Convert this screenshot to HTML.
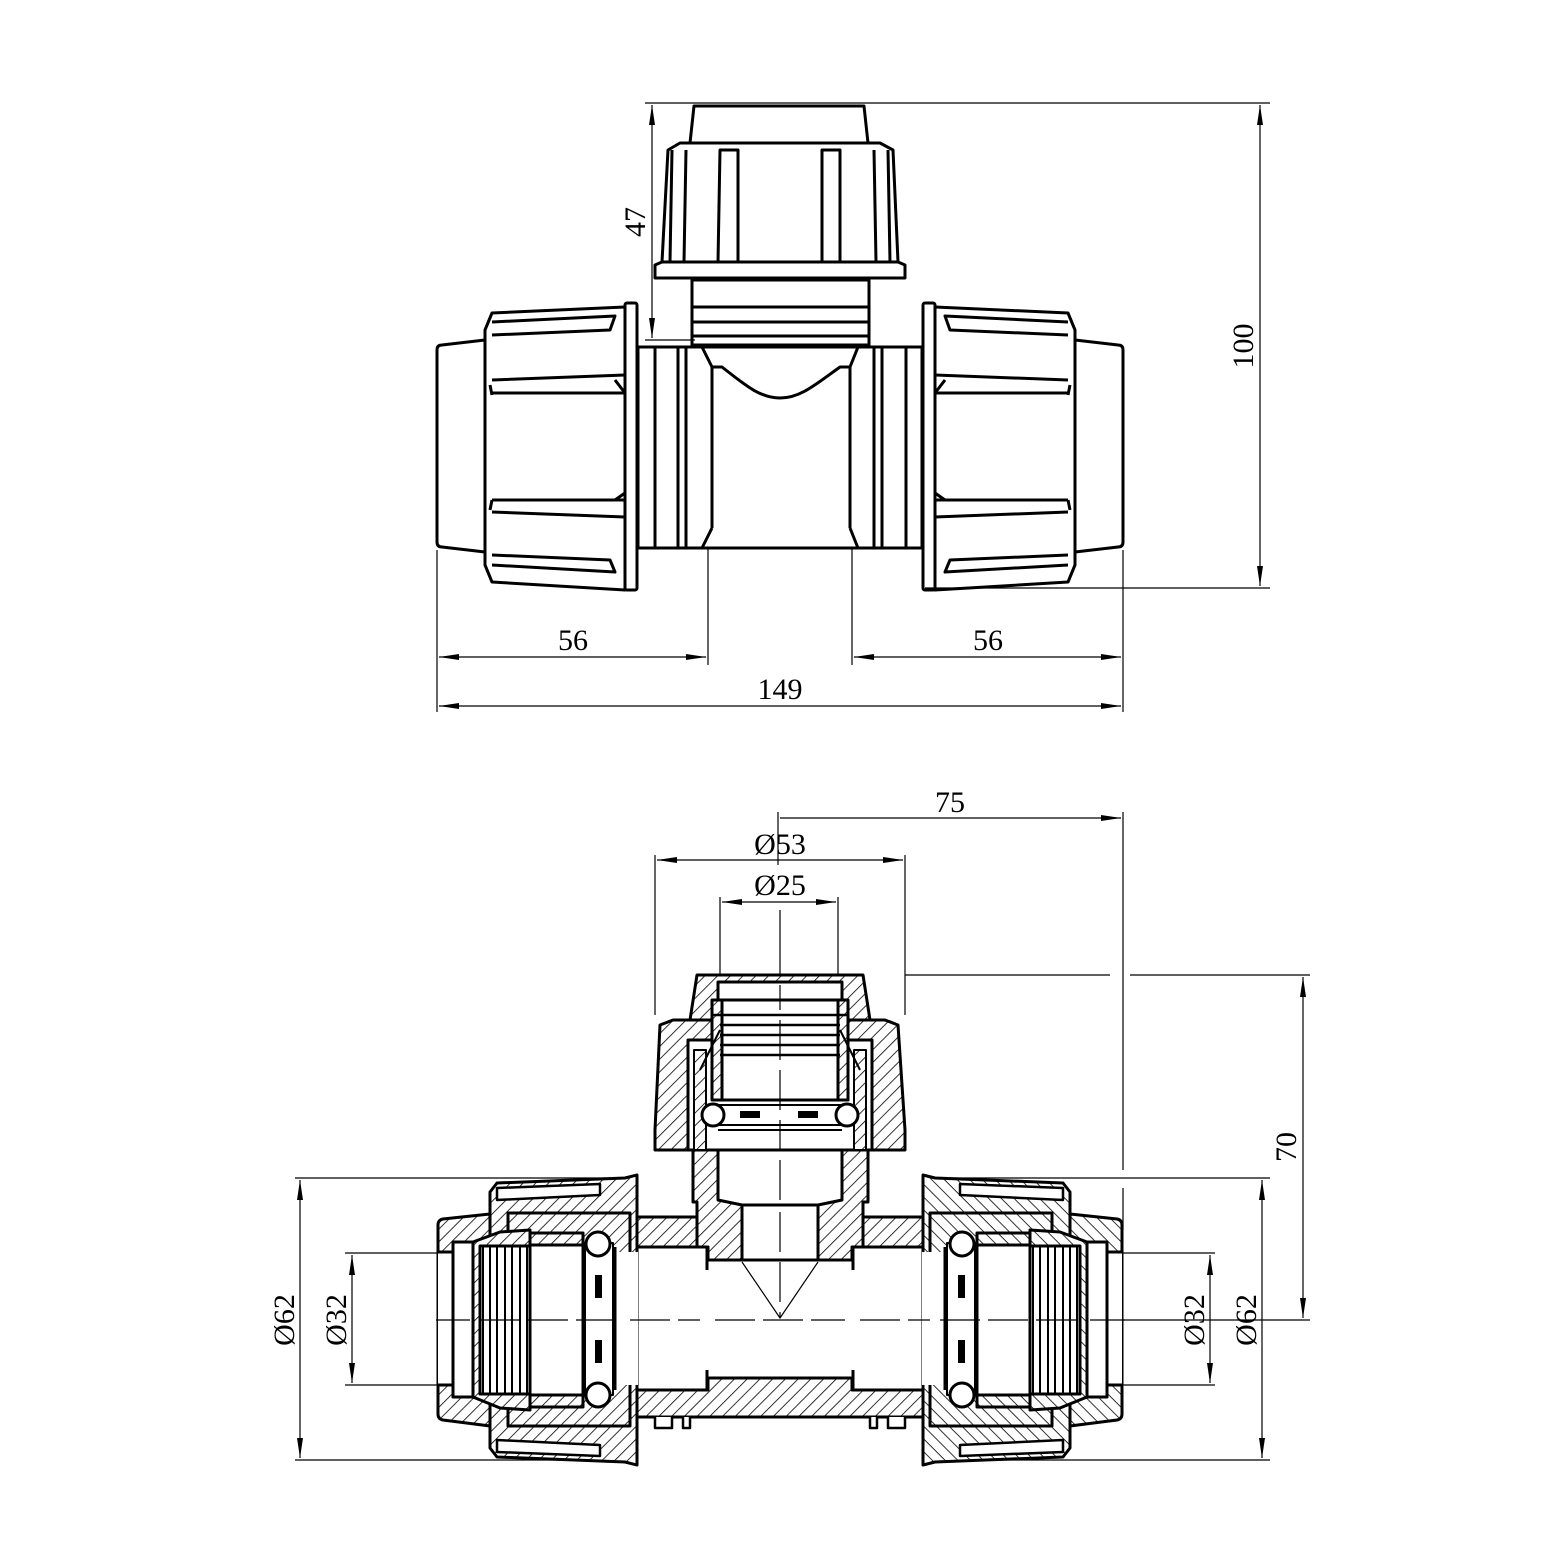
<!DOCTYPE html>
<html><head><meta charset="utf-8"><style>
html,body{margin:0;padding:0;background:#fff;}
svg{display:block;}
text{font-family:"Liberation Serif",serif;font-size:30px;fill:#000;}
</style></head><body>
<svg width="1566" height="1566" viewBox="0 0 1566 1566" xmlns="http://www.w3.org/2000/svg">
<defs>
<pattern id="h" patternUnits="userSpaceOnUse" width="9" height="9" patternTransform="rotate(45)">
<rect width="9" height="9" fill="#fff"/><line x1="0" y1="0" x2="0" y2="9" stroke="#000" stroke-width="1.6"/>
</pattern>
<marker id="a" viewBox="0 0 20 6" refX="20" refY="3" markerWidth="20" markerHeight="6" orient="auto-start-reverse" markerUnits="userSpaceOnUse">
<path d="M0,0 L20,3 L0,6 z" fill="#000"/></marker>
</defs>

<!-- ============ TOP VIEW ============ -->
<g fill="#fff" stroke="#000" stroke-width="3" stroke-linejoin="round">
 <!-- cap -->
 <path d="M690,143 L694,106 L864,106 L868,143 Z"/>
 <!-- branch nut -->
 <path d="M668,150 L680,143 L880,143 L893,150 L898,262 L905,265 L905,278 L655,278 L655,265 L662,262 Z"/>
 <line x1="662" y1="262" x2="898" y2="262"/>
 <path d="M672,150 L670,262 M686,150 L684,262"/>
 <path d="M720,150 L718,262 L738,262 L738,150 Z"/>
 <path d="M822,150 L822,262 L840,262 L840,150 Z"/>
 <path d="M874,150 L876,262 M888,150 L890,262"/>
 <!-- collar -->
 <rect x="692" y="280" width="177" height="65"/>
 <path d="M692,307 H869 M692,322 H869 M692,336 H869"/>
 <!-- body -->
 <rect x="638" y="347" width="284" height="201"/>
 <path d="M655,347 V548 M678,347 V548 M686,347 V548 M712,367 V528 M850,367 V528 M874,347 V548 M882,347 V548 M906,347 V548"/>
 <path d="M712,367 L722,367 C745,385 760,398 780,398 C800,398 815,385 840,367 L850,367"/>
 <path d="M702,347 L712,367 M858,347 L850,367 M712,528 L702,548 M850,528 L858,548"/>
</g>
<!-- left & right nuts top view -->
<g id="tn" fill="#fff" stroke="#000" stroke-width="3" stroke-linejoin="round">
 <path d="M437,350 Q437,345 442,345 L485,340 L485,552 L442,547 Q437,547 437,542 Z"/>
 <path d="M485,330 L492,313 L625,307 L625,590 L492,582 L485,565 Z"/>
 <rect x="625" y="303" width="12" height="287" rx="2"/>
 <path d="M492,322 L615,316 L610,330 L492,335"/>
 <path d="M492,380 L625,375 M492,393 L625,393 M492,395 L490,385 M615,380 L625,393"/>
 <path d="M492,500 L625,500 M492,512 L625,517 M492,500 L490,510 M615,500 L625,493"/>
 <path d="M492,565 L615,572 L610,560 L492,555"/>
</g>
<use href="#tn" transform="translate(1560,0) scale(-1,1)"/>

<!-- top view dimensions -->
<g stroke="#000" stroke-width="1.2" fill="none">
 <line x1="645" y1="103" x2="1270" y2="103"/>
 <line x1="645" y1="340" x2="695" y2="340"/>
 <line x1="652" y1="105" x2="652" y2="338" marker-start="url(#a)" marker-end="url(#a)"/>
 <line x1="925" y1="588" x2="1270" y2="588"/>
 <line x1="1260" y1="105" x2="1260" y2="586" marker-start="url(#a)" marker-end="url(#a)"/>
 <line x1="437" y1="550" x2="437" y2="712"/>
 <line x1="708" y1="548" x2="708" y2="665"/>
 <line x1="852" y1="548" x2="852" y2="665"/>
 <line x1="1123" y1="550" x2="1123" y2="712"/>
 <line x1="439" y1="657" x2="706" y2="657" marker-start="url(#a)" marker-end="url(#a)"/>
 <line x1="854" y1="657" x2="1121" y2="657" marker-start="url(#a)" marker-end="url(#a)"/>
 <line x1="439" y1="706" x2="1121" y2="706" marker-start="url(#a)" marker-end="url(#a)"/>
</g>
<text x="573" y="650" text-anchor="middle">56</text>
<text x="988" y="650" text-anchor="middle">56</text>
<text x="780" y="699" text-anchor="middle">149</text>
<text transform="translate(645,222) rotate(-90)" text-anchor="middle">47</text>
<text transform="translate(1253,346) rotate(-90)" text-anchor="middle">100</text>

<!-- ============ SECTION VIEW ============ -->
<!-- extension/centre lines (behind) -->
<g stroke="#000" stroke-width="1.2" fill="none">
 <line x1="655" y1="855" x2="655" y2="1015"/>
 <line x1="905" y1="855" x2="905" y2="1015"/>
 <line x1="720" y1="897" x2="720" y2="980"/>
 <line x1="838" y1="897" x2="838" y2="980"/>
 <line x1="778" y1="812" x2="778" y2="865"/>
 <line x1="1123" y1="812" x2="1123" y2="1170"/>
 <line x1="1123" y1="1188" x2="1123" y2="1230"/>
 <path d="M905,975 H1110 M1130,975 H1310"/>
 <path d="M295,1178 H625 M940,1178 H1270"/>
 <path d="M295,1460 H625 M940,1460 H1270"/>
 <path d="M345,1253 H440 M1120,1253 H1215"/>
 <path d="M345,1385 H440 M1120,1385 H1215"/>
 <line x1="1112" y1="1320" x2="1310" y2="1320"/>
 <line x1="780" y1="910" x2="780" y2="975"/>
 <line x1="657" y1="860" x2="903" y2="860" marker-start="url(#a)" marker-end="url(#a)"/>
 <line x1="722" y1="902" x2="836" y2="902" marker-start="url(#a)" marker-end="url(#a)"/>
 <line x1="780" y1="818" x2="1121" y2="818" marker-end="url(#a)"/>
 <line x1="1303" y1="977" x2="1303" y2="1318" marker-start="url(#a)" marker-end="url(#a)"/>
 <line x1="300" y1="1180" x2="300" y2="1458" marker-start="url(#a)" marker-end="url(#a)"/>
 <line x1="352" y1="1255" x2="352" y2="1383" marker-start="url(#a)" marker-end="url(#a)"/>
 <line x1="1210" y1="1255" x2="1210" y2="1383" marker-start="url(#a)" marker-end="url(#a)"/>
 <line x1="1262" y1="1180" x2="1262" y2="1458" marker-start="url(#a)" marker-end="url(#a)"/>
</g>
<text x="950" y="812" text-anchor="middle">75</text>
<text x="780" y="854" text-anchor="middle">Ø53</text>
<text x="780" y="895" text-anchor="middle">Ø25</text>
<text transform="translate(1296,1147) rotate(-90)" text-anchor="middle">70</text>
<text transform="translate(294,1320) rotate(-90)" text-anchor="middle">Ø62</text>
<text transform="translate(346,1320) rotate(-90)" text-anchor="middle">Ø32</text>
<text transform="translate(1204,1320) rotate(-90)" text-anchor="middle">Ø32</text>
<text transform="translate(1256,1320) rotate(-90)" text-anchor="middle">Ø62</text>

<g stroke="#000" stroke-width="3" stroke-linejoin="round">
 <!-- body tube -->
 <rect x="630" y="1217" width="300" height="200" fill="url(#h)"/>
 <!-- neck + tee junction -->
 <path d="M693,1150 L868,1150 L868,1202 L863,1202 L863,1260 L697,1260 L697,1202 L693,1202 Z" fill="url(#h)"/>
 <path d="M718,1150 L718,1200 L742,1205 L742,1260 L818,1260 L818,1205 L842,1200 L842,1150 Z" fill="#fff"/>
 <line x1="742" y1="1205" x2="818" y2="1205"/>
 <!-- bores -->
 <rect x="630" y="1247" width="78" height="143" fill="#fff"/>
 <rect x="852" y="1247" width="78" height="143" fill="#fff"/>
 <rect x="707" y="1260" width="146" height="118" fill="#fff"/>
 <path d="M707,1270 V1370 M853,1270 V1370" stroke="#fff" stroke-width="6"/>
 <path d="M707,1247 V1260 M853,1247 V1260 M707,1378 V1390 M853,1378 V1390"/>
 <path d="M742,1262 L780,1318 L818,1262" fill="none" stroke-width="1.2"/>
 <!-- bottom bumps -->
 <path d="M655,1417 V1428 H672 V1417 M683,1417 V1428 H690 V1417 M888,1417 V1428 H905 V1417 M870,1417 V1428 H877 V1417" fill="#fff" stroke-width="2.5"/>
 <!-- branch nut -->
 <path d="M660,1025 L673,1020 L885,1020 L898,1025 L905,1130 L905,1150 L655,1150 L655,1130 Z" fill="url(#h)"/>
 <path d="M690,1020 L697,975 L863,975 L870,1020 Z" fill="url(#h)"/>
 <rect x="718" y="982" width="124" height="40" fill="#fff"/>
 <rect x="688" y="1040" width="184" height="110" fill="#fff"/>
 <rect x="694" y="1050" width="12" height="100" fill="url(#h)" stroke-width="2"/>
 <rect x="854" y="1050" width="12" height="100" fill="url(#h)" stroke-width="2"/>
 <rect x="712" y="1000" width="136" height="100" fill="url(#h)"/>
 <rect x="722" y="1000" width="116" height="100" fill="#fff"/>
 <path d="M712,1015 H848 M720,1025 H840 M720,1035 H840 M720,1045 H840 M720,1055 H840" fill="none" stroke-width="2.5"/>
 <path d="M700,1070 L720,1030 M860,1070 L840,1030" fill="none" stroke-width="2"/>
 <rect x="710" y="1105" width="140" height="20" fill="#fff" stroke-width="2"/>
 <circle cx="713" cy="1115" r="11" fill="#fff"/>
 <circle cx="847" cy="1115" r="11" fill="#fff"/>
 <rect x="740" y="1111" width="20" height="7" fill="#000" stroke-width="0"/>
 <rect x="798" y="1111" width="20" height="7" fill="#000" stroke-width="0"/>
 <line x1="718" y1="1130" x2="842" y2="1130" stroke-width="2"/>
</g>

<!-- left coupling (mirrored to right) -->
<g id="lc" stroke="#000" stroke-width="3" stroke-linejoin="round">
 <path d="M490,1192 L497,1183 L625,1178 L637,1175 L637,1465 L625,1462 L497,1457 L490,1448 Z" fill="url(#h)"/>
 <path d="M497,1188 L600,1184 L600,1195 L497,1200 Z M497,1452 L600,1456 L600,1445 L497,1440 Z" fill="#fff" stroke-width="2.5"/>
 <path d="M438,1225 Q438,1220 443,1219 L490,1214 L490,1426 L443,1420 Q438,1419 438,1414 Z" fill="url(#h)"/>
 <rect x="508" y="1213" width="122" height="213" fill="url(#h)"/>
 <rect x="438" y="1252" width="200" height="133" fill="#fff" stroke="none"/>
 <path d="M438,1252 H455 M438,1385 H455"/>
 <rect x="453" y="1242" width="20" height="155" fill="#fff"/>
 <path d="M473,1242 L500,1232 L530,1230 L530,1410 L500,1408 L473,1397 Z" fill="url(#h)"/>
 <rect x="480" y="1246" width="50" height="148" fill="#fff"/>
 <path d="M483,1246 V1394 M490,1246 V1394 M497,1246 V1394 M505,1246 V1394 M512,1246 V1394 M520,1246 V1394 M527,1246 V1394" stroke-width="2"/>
 <rect x="530" y="1233" width="53" height="174" fill="url(#h)"/>
 <rect x="530" y="1245" width="53" height="150" fill="#fff"/>
 <rect x="585" y="1243" width="28" height="152" fill="#fff" stroke-width="2"/>
 <circle cx="598" cy="1244" r="12" fill="#fff"/>
 <circle cx="598" cy="1395" r="12" fill="#fff"/>
 <rect x="595" y="1275" width="7" height="23" fill="#000" stroke="none"/>
 <rect x="595" y="1340" width="7" height="23" fill="#000" stroke="none"/>
 <path d="M615,1247 V1390" stroke-width="3"/>
 <path d="M637,1217 V1247 M637,1390 V1420" fill="none"/>
</g>
<use href="#lc" transform="translate(1560,0) scale(-1,1)"/>

<!-- centre lines on top -->
<g stroke="#000" stroke-width="1.2" fill="none">
 <path d="M436,1320 H470 M480,1320 H620 M630,1320 H700 M715,1320 H845 M860,1320 H930 M940,1320 H1080 M1090,1320 H1125" stroke-dasharray="40,8"/>
 <path d="M780,985 V1010 M780,1020 V1150 M780,1160 V1200 M780,1212 V1318" stroke-dasharray="40,10"/>
</g>
</svg>
</body></html>
